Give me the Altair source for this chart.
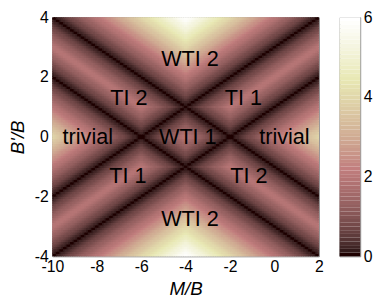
import altair as alt
import numpy as np
import pandas as pd

# ---- data -------------------------------------------------------------
m_range = [-10, 2]          # M/B axis
bp_range = [-4, 4]          # B'/B axis
# gap closings at the TRIM energies  E = M + c + s*B'
trim_offsets = [6, 2]
bp_coeffs = [2, -2]
cell_step = 0.08

x_ticks = [-10, -8, -6, -4, -2, 0, 2]
y_ticks = [-4, -2, 0, 2, 4]
cbar_ticks = [0, 2, 4, 6]
cbar_range = [0, 6]
n_colors = 64

region_text = ["WTI 2", "TI 2", "TI 1", "trivial", "WTI 1", "trivial", "TI 1", "TI 2", "WTI 2"]
region_m = [-3.8, -6.55, -1.4, -8.4, -3.9, 0.45, -6.6, -1.15, -3.8]
region_bp = [2.6, 1.3, 1.3, 0.0, 0.0, 0.0, -1.3, -1.3, -2.75]

# ---- grid of the gap ---------------------------------------------------
nm = int(round((m_range[1] - m_range[0]) / cell_step))
nb = int(round((bp_range[1] - bp_range[0]) / cell_step))
m_lo = m_range[0] + cell_step * np.arange(nm)
b_lo = bp_range[0] + cell_step * np.arange(nb)
MM, BB = np.meshgrid(m_lo, b_lo)
Mc = MM + cell_step / 2
Bc = BB + cell_step / 2
gap = np.full(Mc.shape, np.inf)
for c in trim_offsets:
    for s in bp_coeffs:
        gap = np.minimum(gap, np.abs(Mc + c + s * Bc))
over = 1.6
grid = pd.DataFrame({
    "m0": MM.ravel(), "m1": np.minimum(MM.ravel() + cell_step * over, m_range[1]),
    "b0": BB.ravel(), "b1": np.minimum(BB.ravel() + cell_step * over, bp_range[1]),
    "gap": gap.ravel(),
})

# MATLAB "pink" colormap (64 levels)
n1 = int(3 / 8 * n_colors)
r = np.concatenate([np.arange(1, n1 + 1) / n1, np.ones(n_colors - n1)])
g = np.concatenate([np.zeros(n1), np.arange(1, n1 + 1) / n1, np.ones(n_colors - 2 * n1)])
b = np.concatenate([np.zeros(2 * n1), np.arange(1, n_colors - 2 * n1 + 1) / (n_colors - 2 * n1)])
gray = np.arange(n_colors) / (n_colors - 1)
pink = np.sqrt((2 * gray[:, None] + np.stack([r, g, b], axis=1)) / 3)
palette = ["#%02x%02x%02x" % tuple(int(round(v * 255)) for v in row) for row in pink]

color_scale = alt.Scale(type="quantize", domain=cbar_range, range=palette)
FONT = "Liberation Sans"
HYPHEN = "'' + datum.value"

heat = alt.Chart(grid).mark_rect().encode(
    x=alt.X("m0:Q", scale=alt.Scale(domain=m_range, nice=False, zero=False),
            axis=alt.Axis(values=x_ticks, title="M/B", labelFlush=False,
                          labelExpr=HYPHEN, labelPadding=2, titlePadding=6)),
    x2="m1:Q",
    y=alt.Y("b0:Q", scale=alt.Scale(domain=bp_range, nice=False, zero=False),
            axis=alt.Axis(values=y_ticks, title="B'/B", labelExpr=HYPHEN,
                          labelPadding=4, titlePadding=7)),
    y2="b1:Q",
    color=alt.Color("gap:Q", scale=color_scale, legend=None),
)

labels = alt.Chart(pd.DataFrame({"t": region_text, "m": region_m, "b": region_bp})).mark_text(
    font=FONT, fontSize=22, color="black", baseline="middle", align="center"
).encode(x="m:Q", y="b:Q", text="t:N")

plot = alt.layer(heat, labels).properties(width=271, height=243)

levels = np.arange(n_colors)
cbar_df = pd.DataFrame({
    "k": 0,
    "lo": levels * cbar_range[1] / n_colors,
    "hi": (levels + 1) * cbar_range[1] / n_colors,
    "mid": (levels + 0.5) * cbar_range[1] / n_colors,
})
cbar = alt.Chart(cbar_df).mark_rect().encode(
    x=alt.X("k:O", axis=None, scale=alt.Scale(paddingInner=0, paddingOuter=0)),
    y=alt.Y("lo:Q", scale=alt.Scale(domain=cbar_range, nice=False),
            axis=alt.Axis(orient="right", values=cbar_ticks, title=None, labelPadding=3)),
    y2="hi:Q",
    color=alt.Color("mid:Q", scale=color_scale, legend=None),
).properties(width=21, height=243)

chart = alt.hconcat(plot, cbar, spacing=15).properties(
    padding={"left": 0, "top": -2, "right": 0, "bottom": 0}
).configure(background="white").configure_view(
    stroke="#888888", strokeWidth=1
).configure_axis(
    domain=False, ticks=False, grid=False, labelFont=FONT, titleFont=FONT,
    labelFontSize=16, titleFontSize=19, labelColor="black", titleColor="black",
    titleFontWeight="normal", titleFontStyle="italic"
)

chart.save("out.html", embed_options={"renderer": "svg", "actions": False})
